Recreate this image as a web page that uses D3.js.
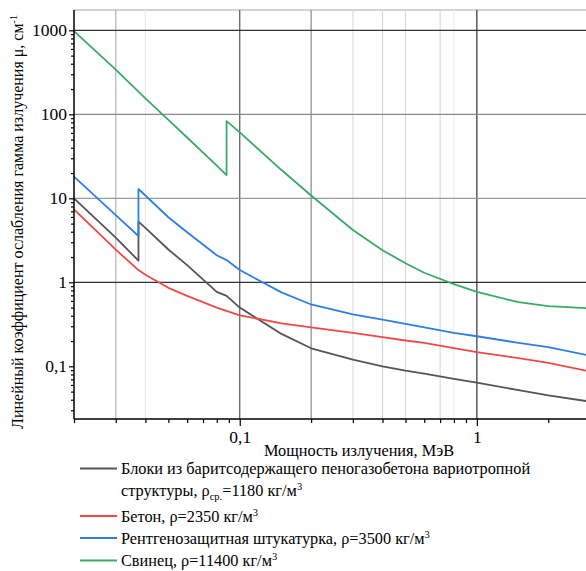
<!DOCTYPE html>
<html>
<head>
<meta charset="utf-8">
<script src="https://cdn.jsdelivr.net/npm/d3@7"></script>
</head>
<body style="margin:0;background:#fff">
<div id="chart"></div>
<script>
// energy, MeV and linear attenuation coefficient, cm^-1
var blockE  = [0.02, 0.03, 0.0374, 0.0374, 0.04, 0.05, 0.06, 0.08, 0.088, 0.1, 0.15, 0.2, 0.3, 0.4, 0.5, 0.6, 0.8, 1, 1.5, 2, 3];
var blockMu = [10.0, 3.4, 1.81, 5.27, 4.45, 2.46, 1.6, 0.77, 0.69, 0.50, 0.243, 0.164, 0.12, 0.10, 0.089, 0.082, 0.071, 0.064, 0.052, 0.045, 0.038];

var concreteE  = [0.02, 0.03, 0.0374, 0.04, 0.05, 0.06, 0.08, 0.1, 0.15, 0.2, 0.3, 0.4, 0.5, 0.6, 0.8, 1, 1.5, 2, 3];
var concreteMu = [7.4, 2.45, 1.40, 1.23, 0.86, 0.69, 0.50, 0.405, 0.325, 0.29, 0.25, 0.222, 0.203, 0.19, 0.165, 0.148, 0.125, 0.11, 0.087];

var plasterE  = [0.02, 0.03, 0.0374, 0.0374, 0.04, 0.05, 0.06, 0.08, 0.088, 0.1, 0.15, 0.2, 0.3, 0.4, 0.5, 0.6, 0.8, 1, 1.5, 2, 3];
var plasterMu = [18.1, 6.3, 3.56, 12.9, 10.8, 5.95, 3.95, 2.1, 1.84, 1.40, 0.76, 0.545, 0.415, 0.36, 0.32, 0.29, 0.25, 0.228, 0.19, 0.169, 0.134];

var leadE  = [0.02, 0.03, 0.04, 0.05, 0.06, 0.08, 0.088, 0.088, 0.1, 0.15, 0.2, 0.3, 0.4, 0.5, 0.6, 0.8, 1, 1.5, 2, 3];
var leadMu = [980, 340, 155, 86, 53, 24.5, 18.9, 83, 61, 21.7, 10.8, 4.2, 2.41, 1.69, 1.3, 0.95, 0.77, 0.58, 0.52, 0.49];

var yTickValues = [1000, 100, 10, 1, 0.1];
var yTickLabels = ["1000", "100", "10", "1", "0,1"];
var xTickValues = [0.1, 1];
var xTickLabels = ["0,1", "1"];

var xTitle = "Мощность излучения, МэВ";
var yTitle = "Линейный коэффициент ослабления гамма излучения μ, см";

var series = [
  {name: "block",    color: "#555555", e: blockE,    mu: blockMu},
  {name: "concrete", color: "#f04848", e: concreteE, mu: concreteMu},
  {name: "plaster",  color: "#2f7fe2", e: plasterE,  mu: plasterMu},
  {name: "lead",     color: "#3aaa6a", e: leadE,     mu: leadMu}
];

var FONT = "Liberation Serif";

var W = 586, H = 571;
var margin = {top: 10, left: 74, bottom: 152, right: -4};
var width = W - margin.left - margin.right,
    height = H - margin.top - margin.bottom;

var svg = d3.select("#chart").append("svg")
  .attr("width", W)
  .attr("height", H)
  .attr("font-family", FONT);

var g = svg.append("g")
  .attr("transform", "translate(" + margin.left + "," + margin.top + ")");

var x = d3.scaleLog().domain([0.02, 3]).range([0, width]);
var y = d3.scaleLog().domain([0.0236, 1745]).range([height, 0]);

// grid (styled like the original: only some lines are drawn)
var vGrid = [
  {v: 0.03, c: "#b4b4b4"}, {v: 0.04, c: "#ececec"},
  {v: 0.1, c: "#555"}, {v: 0.2, c: "#888"},
  {v: 0.3, c: "#e0e0e0"}, {v: 0.4, c: "#d4d4d4"}, {v: 0.5, c: "#dcdcdc"},
  {v: 0.7, c: "#dcdcdc"}, {v: 0.8, c: "#efefef"}, {v: 1, c: "#333"}
];
var hGrid = [
  {v: 1000, c: "#333"}, {v: 100, c: "#8a8a8a"}, {v: 10, c: "#9a9a9a"}, {v: 1, c: "#333"}
];

g.append("line")
  .attr("x1", 0).attr("x2", width + 10)
  .attr("y1", 0).attr("y2", 0)
  .attr("stroke", "#c4c4c4").attr("stroke-width", 1.5);

g.selectAll(".vgrid").data(vGrid).enter().append("line")
  .attr("class", "vgrid")
  .attr("x1", function(d) { return x(d.v); })
  .attr("x2", function(d) { return x(d.v); })
  .attr("y1", 0).attr("y2", height)
  .attr("stroke", function(d) { return d.c; })
  .attr("stroke-width", 1.2);

g.selectAll(".hgrid").data(hGrid).enter().append("line")
  .attr("class", "hgrid")
  .attr("x1", 0).attr("x2", width)
  .attr("y1", function(d) { return y(d.v); })
  .attr("y2", function(d) { return y(d.v); })
  .attr("stroke", function(d) { return d.c; })
  .attr("stroke-width", 1.2);

// curves
var line = d3.line()
  .x(function(d) { return x(d[0]); })
  .y(function(d) { return y(d[1]); });

g.append("g").selectAll("path")
  .data(series).enter().append("path")
  .attr("d", function(s) { return line(d3.zip(s.e, s.mu)); })
  .attr("fill", "none")
  .attr("stroke", function(s) { return s.color; })
  .attr("stroke-width", 1.8)
  .attr("stroke-linejoin", "round");

// axes
var minorX = [];
[0.01, 0.1, 1].forEach(function(dec) {
  for (var i = 2; i <= 9; i++) {
    var v = +(dec * i).toPrecision(3);
    if (v >= 0.02 && v <= 3 && v !== 0.1 && v !== 1) minorX.push(v);
  }
});
var minorY = [];
[0.01, 0.1, 1, 10, 100, 1000].forEach(function(dec) {
  for (var i = 2; i <= 9; i++) {
    var v = +(dec * i).toPrecision(3);
    if (v >= 0.0236 && v <= 1745) minorY.push(v);
  }
});

var xAxis = g.append("g")
  .attr("transform", "translate(0," + height + ")");
xAxis.append("g")
  .call(d3.axisBottom(x).tickValues(minorX).tickSize(4).tickFormat(""))
  .call(function(a) { a.select(".domain").remove(); });
xAxis.append("g")
  .call(d3.axisBottom(x).tickValues(xTickValues).tickSize(7).tickPadding(5)
    .tickFormat(function(d, i) { return xTickLabels[i]; }))
  .call(function(a) { a.select(".domain").remove(); });
xAxis.append("line")
  .attr("x1", 0).attr("x2", width)
  .attr("stroke", "#000").attr("stroke-width", 1.5);

var yAxis = g.append("g");
yAxis.append("g")
  .call(d3.axisLeft(y).tickValues(minorY).tickSize(3).tickFormat(""))
  .call(function(a) { a.select(".domain").remove(); });
yAxis.append("g")
  .call(d3.axisLeft(y).tickValues(yTickValues).tickSize(5).tickPadding(2)
    .tickFormat(function(d, i) { return yTickLabels[i]; }))
  .call(function(a) { a.select(".domain").remove(); });
yAxis.append("line")
  .attr("y1", 0).attr("y2", height)
  .attr("stroke", "#000").attr("stroke-width", 1.5);

g.selectAll(".tick line").attr("stroke", "#000").attr("stroke-width", 1.2);
g.selectAll(".tick text")
  .attr("fill", "#000")
  .attr("font-family", FONT)
  .attr("font-size", 17.5);

// axis titles
svg.append("text")
  .attr("x", 359).attr("y", 456)
  .attr("text-anchor", "middle")
  .attr("font-family", FONT)
  .attr("font-size", 16.3)
  .text(xTitle);

var yt = svg.append("text")
  .attr("transform", "translate(23,222) rotate(-90)")
  .attr("text-anchor", "middle")
  .attr("font-family", FONT)
  .attr("font-size", 16);
yt.append("tspan").text(yTitle);
yt.append("tspan").attr("dy", -6).attr("font-size", 10).text("-1");

// legend
var legendRows = [
  {color: "#555555", y: 474, parts: [["Блоки из баритсодержащего пеногазобетона вариотропной"]]},
  {color: null, y: 496, parts: [["структуры, ρ"], ["ср.", "sub"], ["=1180 кг/м"], ["3", "sup"]]},
  {color: "#f04848", y: 521.5, parts: [["Бетон, ρ=2350 кг/м"], ["3", "sup"]]},
  {color: "#2f7fe2", y: 543.5, parts: [["Рентгенозащитная штукатурка, ρ=3500 кг/м"], ["3", "sup"]]},
  {color: "#3aaa6a", y: 566, parts: [["Свинец, ρ=11400 кг/м"], ["3", "sup"]]}
];

var legend = svg.append("g");
legendRows.forEach(function(r) {
  if (r.color) {
    legend.append("line")
      .attr("x1", 80).attr("x2", 117)
      .attr("y1", r.y - 5.5).attr("y2", r.y - 5.5)
      .attr("stroke", r.color).attr("stroke-width", 1.8);
  }
  var t = legend.append("text")
    .attr("x", 121).attr("y", r.y)
    .attr("font-family", FONT)
    .attr("font-size", 16.3);
  var shift = 0;
  r.parts.forEach(function(p) {
    var ts = t.append("tspan").text(p[0]);
    if (p[1] === "sup") {
      ts.attr("dy", -6 - shift).attr("font-size", 10.5);
      shift = -6;
    } else if (p[1] === "sub") {
      ts.attr("dy", 4 - shift).attr("font-size", 10.5);
      shift = 4;
    } else if (shift !== 0) {
      ts.attr("dy", -shift);
      shift = 0;
    }
  });
});
</script>
</body>
</html>
